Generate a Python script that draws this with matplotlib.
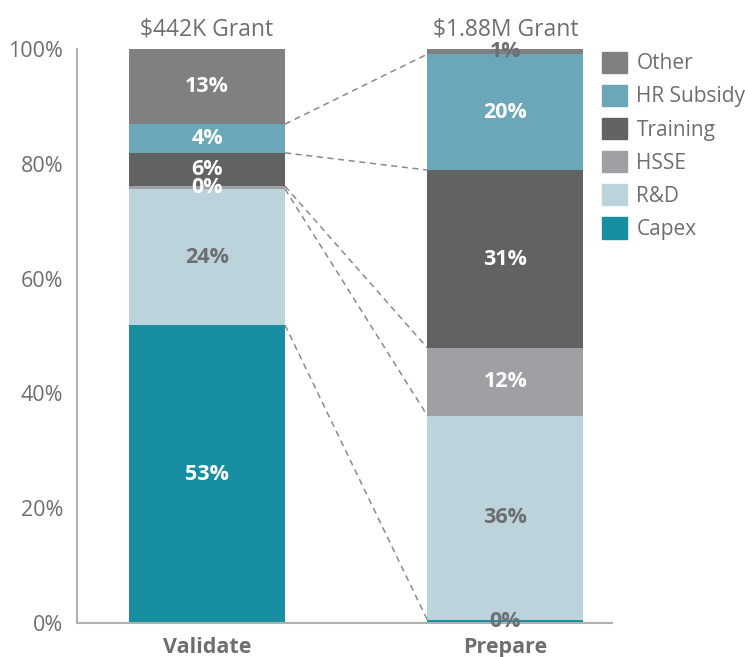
import matplotlib.pyplot as plt
from matplotlib.patches import Patch

plt.rcParams['font.family'] = ['Open Sans', 'DejaVu Sans']

# Data
stages = ['Validate', 'Prepare']
grants = ['$442K Grant', '$1.88M Grant']
categories = ['Capex', 'R&D', 'HSSE', 'Training', 'HR Subsidy', 'Other']
validate = [51.9, 23.7, 0.5, 5.8, 5.0, 13.1]   # % of grant
prepare = [0.5, 35.6, 11.8, 31.0, 20.2, 0.9]
validate_labels = ['53%', '24%', '0%', '6%', '4%', '13%']
prepare_labels = ['0%', '36%', '12%', '31%', '20%', '1%']

colors = ['#178fa1', '#bcd3db', '#9fa0a3', '#616264', '#6ba7b8', '#808083']
grey = '#6d6e71'
validate_text = ['white', grey, 'white', 'white', 'white', 'white']
prepare_text = [grey, grey, 'white', 'white', 'white', grey]

fig = plt.figure(figsize=(7.45, 6.57), dpi=100)
ax = fig.add_axes([0.1034, 0.0518, 0.718, 0.8737])

width = 0.5226
xs = [0, 1]
series = [validate, prepare]
labels = [validate_labels, prepare_labels]
text_colors = [validate_text, prepare_text]

tops = []
for x, vals, labs, tcs in zip(xs, series, labels, text_colors):
    bottom = 0
    stack_tops = []
    for v, c, lab, tc in zip(vals, colors, labs, tcs):
        ax.bar(x, v, width, bottom=bottom, color=c, linewidth=0)
        ax.text(x, bottom + v / 2, lab, ha='center', va='center',
                fontsize=15.5, fontweight='bold', color=tc)
        bottom += v
        stack_tops.append(bottom)
    tops.append(stack_tops)

# dashed connectors between matching segment tops
for t0, t1 in zip(tops[0][:-1], tops[1][:-1]):
    ax.plot([width / 2, 1 - width / 2], [t0, t1], ls=(0, (4, 3)),
            color='#8a8a8d', lw=1.1)

# grant titles above bars
for x, g in zip(xs, grants):
    ax.text(x, 101.3, g, ha='center', va='bottom', fontsize=16.5, color=grey)

ax.set_xlim(-0.4355, 1.357)
ax.set_ylim(0, 100)
ax.set_yticks(range(0, 101, 20))
ax.set_yticklabels([f'{v}%' for v in range(0, 101, 20)], fontsize=15.5, color=grey)
ax.set_xticks(xs)
ax.set_xticklabels(stages, fontsize=15.5, fontweight='bold', color=grey)
ax.tick_params(length=0, axis='y', pad=10)
ax.tick_params(length=0, axis='x', pad=10)

for side in ['top', 'right']:
    ax.spines[side].set_visible(False)
for side in ['left', 'bottom']:
    ax.spines[side].set_color('#b0b0b0')
    ax.spines[side].set_linewidth(1.5)

handles = [Patch(color=c, label=l) for c, l in zip(colors, categories)][::-1]
fig.legend(handles=handles, loc='upper left', bbox_to_anchor=(0.783, 0.95),
           frameon=False, fontsize=15, labelcolor=grey, handlelength=1.2,
           handleheight=1.2, labelspacing=0.5, handletextpad=0.45)

fig.savefig('out.png', dpi=100)
